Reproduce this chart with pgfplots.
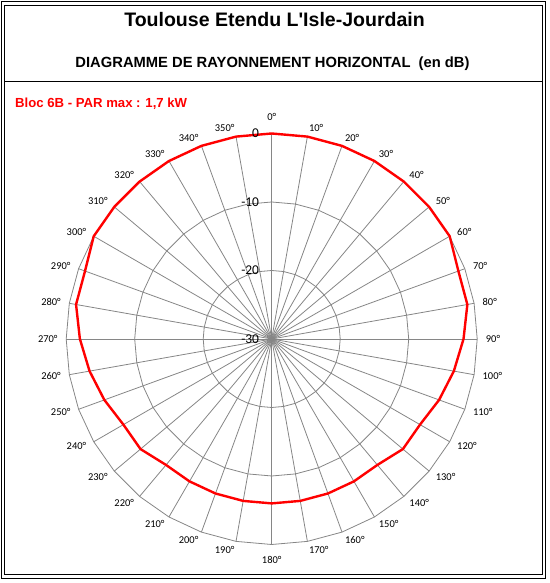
\documentclass[border=0pt]{standalone}
\usepackage{fontspec}
\setmainfont{Liberation Sans}
\newfontfamily\arial{Liberation Sans}
\newfontfamily\calibri{Carlito}
\usepackage{pgfplots}
\usepackage{pgfplotstable}
\pgfplotsset{compat=1.18}

\definecolor{gridgray}{RGB}{134,134,134}
\definecolor{pred}{RGB}{255,0,0}

% horizontal pattern: azimuth (deg, clockwise from north) and attenuation (dB)
\pgfplotstableread{
angle db
0    0
10   0
20   0
30   0
40   0
50   0
60   0
70  -1
80  -1
90  -2
100 -3
110 -4
120 -5
130 -5
140 -6
150 -6
160 -6
170 -6
180 -6
190 -6
200 -6
210 -6
220 -6
230 -5
240 -5
250 -4
260 -3
270 -2
280 -1
290 -1
300  0
310  0
320  0
330  0
340  0
350  0
360  0
}\diagdata

\begin{document}
\begin{tikzpicture}
\begin{scope}[x=1bp,y=1bp]
  \path[use as bounding box] (0,0) rectangle (550,583);
  % frame
  \draw[line width=0.9bp] (1,5) rectangle (545.5,582);
  \draw[line width=0.9bp] (4.7,8.5) rectangle (542,578);
  \draw[line width=0.9bp] (4.7,502) -- (542,502);
  % titles
  \node[anchor=base, inner sep=0, font=\arial\bfseries\fontsize{19.6}{23}\selectfont]
    at (274.5,556.3) {Toulouse Etendu L'Isle-Jourdain};
  \node[anchor=base, inner sep=0, font=\bfseries\fontsize{14.8}{17}\selectfont]
    at (272.5,515.7) {DIAGRAMME DE RAYONNEMENT HORIZONTAL\ \ (en dB)};
  \node[anchor=base west, inner sep=0, text=pred, font=\bfseries\fontsize{13.2}{15}\selectfont]
    at (15,475.7) {Bloc 6B - PAR max : 1,7 kW};
\end{scope}

% radar grid
\begin{scope}[shift={(271.7bp,244bp)}]
  \foreach \a in {0,10,...,350}
    \draw[gridgray, line width=0.8bp] (0,0) -- ({90-\a}:205.5bp);
  \foreach \r in {68.5bp,137bp,205.5bp}
    \draw[gridgray, line width=0.8bp] (90:\r)
      \foreach \a in {10,20,...,350} { -- ({90-\a}:\r) } -- cycle;
  \tikzset{alab/.style={inner sep=0, font=\calibri\fontsize{10.5}{12}\selectfont}}
  \node[alab, anchor=south] at (90:218bp) {0°};
  \node[alab, anchor=north] at (-90:217bp) {180°};
  \foreach \a in {10,20,...,170}
    \node[alab, anchor=west] at ({90-\a}:214bp) {\a°};
  \foreach \a in {190,200,...,350}
    \node[alab, anchor=east] at ({90-\a}:214bp) {\a°};
\end{scope}

\begin{axis}[
    at={(271.7bp,244bp)}, anchor=origin,
    x=6.85bp, y=6.85bp,
    xmin=-31, xmax=31, ymin=-31, ymax=31,
    hide axis, clip=false,
  ]
  \addplot[pred, line width=2.4bp, line join=round, no markers]
    table[x expr={(\thisrow{db}+30)*sin(\thisrow{angle})},
          y expr={(\thisrow{db}+30)*cos(\thisrow{angle})}] {\diagdata};
\end{axis}

% radial scale labels
\begin{scope}[shift={(271.7bp,244bp)}]
  \tikzset{rlab/.style={anchor=east, inner sep=0, font=\calibri\fontsize{13.5}{16}\selectfont}}
  \node[rlab] at (-12.5bp,0) {-30};
  \node[rlab] at (-12.5bp,68.5bp) {-20};
  \node[rlab] at (-12.5bp,137bp) {-10};
  \node[rlab] at (-12.5bp,205.5bp) {0};
\end{scope}
\end{tikzpicture}
\end{document}
